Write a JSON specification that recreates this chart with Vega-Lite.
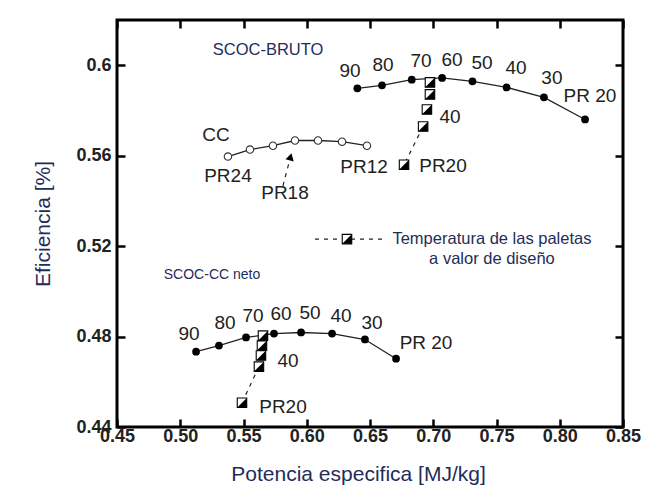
{
  "$schema": "https://vega.github.io/schema/vega-lite/v6.json",
  "width": 506,
  "height": 407,
  "autosize": {"type": "none"},
  "padding": {"left": 117, "top": 20, "right": 27, "bottom": 63},
  "background": "white",
  "config": {"view": {"stroke": "black", "strokeWidth": 3}, "font": "Liberation Sans"},
  "datasets": {
    "curves": [
      {"s": "bruto", "x": 0.640, "y": 0.5898},
      {"s": "bruto", "x": 0.6595, "y": 0.5911},
      {"s": "bruto", "x": 0.683, "y": 0.5936},
      {"s": "bruto", "x": 0.707, "y": 0.5944},
      {"s": "bruto", "x": 0.731, "y": 0.5929},
      {"s": "bruto", "x": 0.758, "y": 0.5902},
      {"s": "bruto", "x": 0.7875, "y": 0.5858},
      {"s": "bruto", "x": 0.820, "y": 0.5760},
      {"s": "cc", "x": 0.5377, "y": 0.5596},
      {"s": "cc", "x": 0.5551, "y": 0.5627},
      {"s": "cc", "x": 0.5733, "y": 0.5644},
      {"s": "cc", "x": 0.5907, "y": 0.5667},
      {"s": "cc", "x": 0.6089, "y": 0.5667},
      {"s": "cc", "x": 0.6279, "y": 0.5662},
      {"s": "cc", "x": 0.6476, "y": 0.5644},
      {"s": "neto", "x": 0.5125, "y": 0.4733},
      {"s": "neto", "x": 0.5306, "y": 0.4760},
      {"s": "neto", "x": 0.5520, "y": 0.4796},
      {"s": "neto", "x": 0.5741, "y": 0.4813},
      {"s": "neto", "x": 0.5955, "y": 0.4818},
      {"s": "neto", "x": 0.6200, "y": 0.4813},
      {"s": "neto", "x": 0.6460, "y": 0.4787},
      {"s": "neto", "x": 0.6706, "y": 0.4702}
    ],
    "squares": [
      {"g": "bruto", "i": 1, "x": 0.6974, "y": 0.5924},
      {"g": "bruto", "i": 2, "x": 0.6974, "y": 0.5871},
      {"g": "bruto", "i": 3, "x": 0.6950, "y": 0.5804},
      {"g": "bruto", "i": 4, "x": 0.6920, "y": 0.5729},
      {"g": "bruto", "i": 5, "x": 0.6769, "y": 0.5560},
      {"g": "neto", "i": 1, "x": 0.5654, "y": 0.4804},
      {"g": "neto", "i": 2, "x": 0.5646, "y": 0.4760},
      {"g": "neto", "i": 3, "x": 0.5638, "y": 0.4716},
      {"g": "neto", "i": 4, "x": 0.5622, "y": 0.4667},
      {"g": "neto", "i": 5, "x": 0.5488, "y": 0.4507},
      {"g": "legend", "i": 1, "x": 0.6318, "y": 0.5231}
    ],
    "dashes": [
      {"g": "bruto", "i": 1, "x": 0.6920, "y": 0.5729},
      {"g": "bruto", "i": 2, "x": 0.6769, "y": 0.5560},
      {"g": "neto", "i": 1, "x": 0.5622, "y": 0.4667},
      {"g": "neto", "i": 2, "x": 0.5488, "y": 0.4507},
      {"g": "legend", "i": 1, "x": 0.6065, "y": 0.5231},
      {"g": "legend", "i": 2, "x": 0.6595, "y": 0.5231},
      {"g": "arrow", "i": 1, "x": 0.5812, "y": 0.5467},
      {"g": "arrow", "i": 2, "x": 0.5872, "y": 0.5595}
    ],
    "arrowhead": [
      {"x": 0.5872, "y": 0.5595}
    ],
    "labels": [
      {"k": "num", "t": "90", "x": 0.6342, "y": 0.5973},
      {"k": "num", "t": "80", "x": 0.6603, "y": 0.6000},
      {"k": "num", "t": "70", "x": 0.6903, "y": 0.6018},
      {"k": "num", "t": "60", "x": 0.7148, "y": 0.6022},
      {"k": "num", "t": "50", "x": 0.7385, "y": 0.6009},
      {"k": "num", "t": "40", "x": 0.7654, "y": 0.5987},
      {"k": "num", "t": "30", "x": 0.7938, "y": 0.5942},
      {"k": "num", "t": "PR 20", "x": 0.8239, "y": 0.5862},
      {"k": "num", "t": "40", "x": 0.7132, "y": 0.5773},
      {"k": "num", "t": "PR20", "x": 0.7077, "y": 0.5556},
      {"k": "num", "t": "CC", "x": 0.5283, "y": 0.5693},
      {"k": "num", "t": "PR24", "x": 0.5377, "y": 0.5511},
      {"k": "num", "t": "PR18", "x": 0.5828, "y": 0.5436},
      {"k": "num", "t": "PR12", "x": 0.6453, "y": 0.5551},
      {"k": "num", "t": "90", "x": 0.5069, "y": 0.4813},
      {"k": "num", "t": "80", "x": 0.5354, "y": 0.4862},
      {"k": "num", "t": "70", "x": 0.5575, "y": 0.4889},
      {"k": "num", "t": "60", "x": 0.5796, "y": 0.4898},
      {"k": "num", "t": "50", "x": 0.6026, "y": 0.4902},
      {"k": "num", "t": "40", "x": 0.6271, "y": 0.4889},
      {"k": "num", "t": "30", "x": 0.6516, "y": 0.4858},
      {"k": "num", "t": "PR 20", "x": 0.6943, "y": 0.4773},
      {"k": "num", "t": "40", "x": 0.5852, "y": 0.4693},
      {"k": "num", "t": "PR20", "x": 0.5812, "y": 0.4489},
      {"k": "note", "t": "SCOC-BRUTO", "x": 0.5694, "y": 0.6067},
      {"k": "note2", "t": "SCOC-CC neto", "x": 0.5251, "y": 0.5071},
      {"k": "note", "t": "Temperatura de las paletas", "x": 0.7464, "y": 0.5231},
      {"k": "note", "t": "a valor de diseño", "x": 0.7464, "y": 0.5142}
    ]
  },
  "encoding": {
    "x": {"field": "x", "type": "quantitative", "scale": {"domain": [0.45, 0.85], "nice": false, "zero": false}, "axis": null},
    "y": {"field": "y", "type": "quantitative", "scale": {"domain": [0.44, 0.62], "nice": false, "zero": false}, "axis": null}
  },
  "layer": [
    {
      "data": {"name": "curves"},
      "mark": {"type": "point", "opacity": 0},
      "encoding": {
        "x": {"field": "x", "type": "quantitative", "scale": {"domain": [0.45, 0.85], "nice": false, "zero": false},
          "axis": {"orient": "bottom", "values": [0.45, 0.5, 0.55, 0.6, 0.65, 0.7, 0.75, 0.8, 0.85], "format": ".2f",
            "domain": false, "grid": false, "tickSize": -8, "tickWidth": 2.5, "tickColor": "black",
            "labelFont": "Liberation Sans", "labelFontWeight": "bold", "labelFontSize": 18, "labelColor": "#222",
            "labelPadding": 8, "labelOverlap": false, "labelFlush": false,
            "title": "Potencia especifica [MJ/kg]", "titleFont": "Liberation Sans", "titleFontSize": 21, "titleFontWeight": "normal",
            "titleColor": "#1f2d5a", "titlePadding": 18, "titleX": 241}},
        "y": {"field": "y", "type": "quantitative", "scale": {"domain": [0.44, 0.62], "nice": false, "zero": false},
          "axis": {"orient": "left", "values": [0.44, 0.48, 0.52, 0.56, 0.6], "format": "~g",
            "domain": false, "grid": false, "tickSize": -8, "tickWidth": 2.5, "tickColor": "black",
            "labelFont": "Liberation Sans", "labelFontWeight": "bold", "labelFontSize": 18, "labelColor": "#222",
            "labelPadding": 14, "labelOverlap": false, "labelFlush": false,
            "title": "Eficiencia [%]", "titleFont": "Liberation Sans", "titleFontSize": 21, "titleFontWeight": "normal",
            "titleColor": "#1f2d5a", "titlePadding": 22}}
      }
    },
    {
      "data": {"name": "curves"},
      "mark": {"type": "point", "opacity": 0},
      "encoding": {
        "x": {"field": "x", "type": "quantitative", "scale": {"domain": [0.45, 0.85], "nice": false, "zero": false},
          "axis": {"orient": "top", "values": [0.45, 0.5, 0.55, 0.6, 0.65, 0.7, 0.75, 0.8, 0.85], "labels": false, "title": null,
            "domain": false, "grid": false, "tickSize": -8, "tickWidth": 2.5, "tickColor": "black"}},
        "y": {"field": "y", "type": "quantitative", "scale": {"domain": [0.44, 0.62], "nice": false, "zero": false},
          "axis": {"orient": "right", "values": [0.44, 0.48, 0.52, 0.56, 0.6], "labels": false, "title": null,
            "domain": false, "grid": false, "tickSize": -8, "tickWidth": 2.5, "tickColor": "black"}}
      }
    },
    {
      "data": {"name": "curves"},
      "mark": {"type": "line", "color": "#222", "strokeWidth": 1.3},
      "encoding": {"detail": {"field": "s"}}
    },
    {
      "data": {"name": "curves"},
      "transform": [{"filter": "datum.s !== 'cc'"}],
      "mark": {"type": "point", "filled": true, "color": "black", "size": 60, "shape": "circle", "opacity": 1}
    },
    {
      "data": {"name": "curves"},
      "transform": [{"filter": "datum.s === 'cc'"}],
      "mark": {"type": "point", "filled": true, "fill": "white", "stroke": "#333", "strokeWidth": 1.1, "size": 55, "shape": "circle", "opacity": 1}
    },
    {
      "data": {"name": "dashes"},
      "mark": {"type": "line", "color": "#222", "strokeWidth": 1.2, "strokeDash": [4, 5]},
      "encoding": {"detail": {"field": "g"}, "order": {"field": "i"}}
    },
    {
      "data": {"name": "arrowhead"},
      "mark": {"type": "point", "filled": true, "color": "black", "shape": "triangle-up", "size": 70, "angle": 15, "opacity": 1}
    },
    {
      "data": {"name": "squares"},
      "mark": {"type": "point", "filled": true, "fill": "white", "stroke": "black", "strokeWidth": 1.1, "shape": "square", "size": 90, "opacity": 1}
    },
    {
      "data": {"name": "squares"},
      "mark": {"type": "point", "filled": true, "fill": "black", "strokeWidth": 0, "shape": "M 1 -1 L 1 1 L -1 1 Z", "size": 90, "opacity": 1}
    },
    {
      "data": {"name": "labels"},
      "transform": [{"filter": "datum.k === 'num'"}],
      "mark": {"type": "text", "font": "Liberation Sans", "fontSize": 19, "color": "#222", "align": "center", "baseline": "middle"},
      "encoding": {"text": {"field": "t"}}
    },
    {
      "data": {"name": "labels"},
      "transform": [{"filter": "datum.k === 'note'"}],
      "mark": {"type": "text", "font": "Liberation Sans", "fontSize": 16.5, "color": "#1f2d5a", "align": "center", "baseline": "middle"},
      "encoding": {"text": {"field": "t"}}
    },
    {
      "data": {"name": "labels"},
      "transform": [{"filter": "datum.k === 'note2'"}],
      "mark": {"type": "text", "font": "Liberation Sans", "fontSize": 14, "color": "#1f2d5a", "align": "center", "baseline": "middle"},
      "encoding": {"text": {"field": "t"}}
    }
  ],
  "resolve": {"axis": {"x": "independent", "y": "independent"}}
}
